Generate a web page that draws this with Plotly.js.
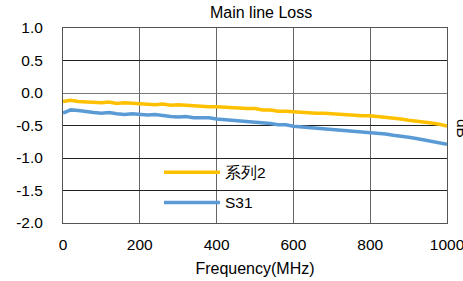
<!DOCTYPE html>
<html><head><meta charset="utf-8">
<script src="https://cdn.plot.ly/plotly-3.0.1.min.js"></script>
<style>html,body{margin:0;padding:0;background:#fff;}#chart{width:463px;height:281px;}</style>
</head><body><div id="chart"></div>
<script>
const freq = [0,20,40,60,80,100,120,140,160,180,200,220,240,260,280,300,320,340,360,380,400,420,440,460,480,500,520,540,560,580,600,620,640,660,680,700,720,740,760,780,800,820,840,860,880,900,920,940,960,980,1000];
const series2 = [-0.13,-0.11,-0.13,-0.14,-0.14,-0.15,-0.14,-0.16,-0.15,-0.16,-0.17,-0.17,-0.18,-0.17,-0.19,-0.18,-0.19,-0.19,-0.20,-0.21,-0.21,-0.22,-0.22,-0.23,-0.24,-0.24,-0.26,-0.26,-0.28,-0.28,-0.29,-0.30,-0.30,-0.31,-0.31,-0.32,-0.32,-0.33,-0.34,-0.35,-0.35,-0.36,-0.38,-0.39,-0.40,-0.42,-0.43,-0.45,-0.46,-0.48,-0.51];
const s31 = [-0.31,-0.26,-0.27,-0.29,-0.30,-0.31,-0.30,-0.32,-0.33,-0.32,-0.33,-0.34,-0.33,-0.35,-0.36,-0.37,-0.36,-0.38,-0.38,-0.38,-0.40,-0.41,-0.42,-0.42,-0.44,-0.45,-0.46,-0.47,-0.49,-0.49,-0.51,-0.52,-0.53,-0.54,-0.54,-0.55,-0.56,-0.57,-0.58,-0.59,-0.60,-0.62,-0.63,-0.65,-0.66,-0.68,-0.70,-0.72,-0.74,-0.76,-0.79];
const names = ['系列2','S31'];
const xTicks = [0,200,400,600,800,1000];
const yTicks = [1.0,0.5,0.0,-0.5,-1.0,-1.5,-2.0];
const yTickText = ['1.0','0.5','0.0','-0.5','-1.0','-1.5','-2.0'];

const font = 'Liberation Sans, Arial, sans-serif';
const traces = [
  {x: freq, y: series2, name: names[0], legendgroup:'a', mode:'lines', line:{color:'#FFC000', width:3.5}},
  {x: freq, y: s31, name: names[1], legendgroup:'b', mode:'lines', line:{color:'#5B9BD5', width:3.5}}
];
const layout = {
  width: 463, height: 281,
  margin: {l:63, r:16, t:28, b:58},
  paper_bgcolor:'#fff', plot_bgcolor:'#fff',
  font: {family: font, size: 15.5, color:'#000'},
  title: {text:'Main line Loss', font:{size:16, color:'#000'}, x:0.564, xanchor:'center', y:0.955, yanchor:'middle', yref:'container'},
  showlegend: true,
  legend: {x:0.25, y:0.345, xanchor:'left', yanchor:'top', bgcolor:'rgba(0,0,0,0)', itemwidth:56, traceorder:'grouped', tracegroupgap:7, font:{size:15.5}},
  xaxis: {range:[0,1000], tickvals:xTicks, showgrid:true, gridcolor:'#666', gridwidth:1, zeroline:false,
    showline:true, linecolor:'#555', mirror:true, ticks:'', ticklabelstandoff:7, ticklabeloverflow:'allow',
    title:{text:'Frequency(MHz)', font:{size:16}, standoff:11}},
  yaxis: {range:[-2,1], tickvals:yTicks, ticktext:yTickText, showgrid:true, gridcolor:'#222', gridwidth:1, zeroline:true, zerolinecolor:'#777', zerolinewidth:1,
    showline:true, linecolor:'#555', mirror:true, ticks:'', ticklabelstandoff:16},
  annotations: [{text:'dB', textangle:90, xref:'paper', yref:'paper', x:1.015, y:0.545, xanchor:'left', yanchor:'top', showarrow:false, font:{size:15.5, color:'#000'}}]
};
Plotly.newPlot('chart', traces, layout, {displayModeBar:false, staticPlot:true});
</script></body></html>
